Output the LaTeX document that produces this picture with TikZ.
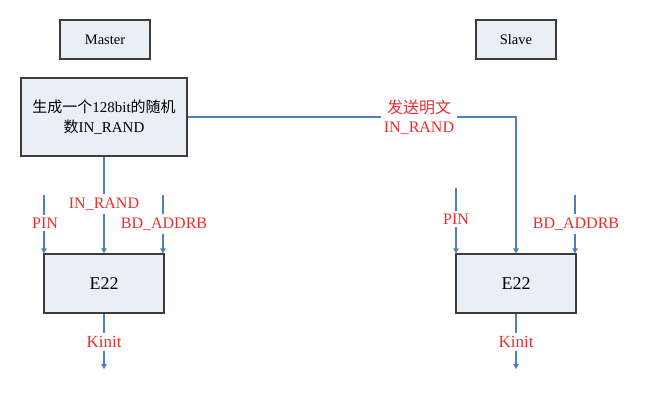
\documentclass[tikz,border=0pt]{standalone}
\usepackage{fontspec}
\setmainfont{Liberation Serif}
\newfontfamily\cjk{Noto Sans CJK SC}
\usetikzlibrary{arrows.meta}
\definecolor{lblred}{RGB}{236,45,45}
\definecolor{wireblue}{RGB}{79,129,189}
\definecolor{boxfill}{RGB}{233,238,247}
\definecolor{boxline}{RGB}{60,60,60}
\tikzset{
  box/.style={draw=boxline, line width=1.3pt, fill=boxfill, inner sep=0pt, align=center, font=\fontsize{14.5}{18}\selectfont},
  lbl/.style={text=lblred, inner sep=3pt, align=center, font=\fontsize{16}{19}\selectfont},
  wire/.style={draw=wireblue, line width=1.2pt},
  tip/.style={wire, -{Triangle[width=5.5pt,length=5pt]}}
}

\begin{document}
\begin{tikzpicture}[x=1pt, y=-1pt]
			%%%%% START %%%%%
			\useasboundingbox (0,0) rectangle (667,407);
			
			% header boxes
			\node[box, minimum width=90pt, minimum height=39pt] (master) at (105, 39.5) {Master};
			\node[box, minimum width=80pt, minimum height=39pt] (slave) at (516, 39.5) {Slave};
			
			% random number box
			\node[box, minimum width=166pt, minimum height=78pt, font=\fontsize{15}{20}\selectfont] (rand) at (104, 117)
				{{\cjk 生成一个}128bit{\cjk 的随机}\\{\cjk 数}IN\_RAND};
			
			% E22 boxes
			\node[box, minimum width=120pt, minimum height=59pt, font=\fontsize{18}{20}\selectfont] (eL) at (104, 283.5) {E22};
			\node[box, minimum width=120pt, minimum height=59pt, font=\fontsize{18}{20}\selectfont] (eR) at (516, 283.5) {E22};
			
			% master side inputs
			\coordinate (pinL) at (44, 195);
			\coordinate (bdL) at (163, 195);
			\node[lbl] (lpinL) at (45, 223) {PIN};
			\node[lbl] (lrandL) at (104, 204) {IN\_RAND};
			\node[lbl] (lbdL) at (164, 224) {BD\_ADDRB};
			\draw[wire] (pinL) -- (pinL |- lpinL.north);
			\draw[tip] (pinL |- lpinL.south) -- (pinL |- eL.north);
			\draw[wire] (rand.south) -- (lrandL);
			\draw[tip] (lrandL) -- (eL.north);
			\draw[wire] (bdL) -- (bdL |- lbdL.north);
			\draw[tip] (bdL |- lbdL.south) -- (bdL |- eL.north);
			
			% send to slave
			\node[lbl] (send) at (419, 117) {{\cjk 发送明文}\\IN\_RAND};
			\coordinate (turn) at (516, 117);
			\draw[wire] (rand.east) -- (send);
			\draw[tip] (send) -- (turn) -- (eR.north);
			
			% slave side inputs
			\coordinate (pinR) at (456, 188);
			\coordinate (bdR) at (575, 195);
			\node[lbl] (lpinR) at (456, 219) {PIN};
			\node[lbl] (lbdR) at (576, 224) {BD\_ADDRB};
			\draw[wire] (pinR) -- (pinR |- lpinR.north);
			\draw[tip] (pinR |- lpinR.south) -- (pinR |- eR.north);
			\draw[wire] (bdR) -- (bdR |- lbdR.north);
			\draw[tip] (bdR |- lbdR.south) -- (bdR |- eR.north);
			
			% outputs
			\node[lbl, font=\fontsize{17}{20}\selectfont] (kL) at (104, 342) {Kinit};
			\node[lbl, font=\fontsize{17}{20}\selectfont] (kR) at (516, 342) {Kinit};
			\coordinate (outL) at (104, 369);
			\coordinate (outR) at (516, 369);
			\draw[wire] (eL.south) -- (kL);
			\draw[tip] (kL) -- (outL);
			\draw[wire] (eR.south) -- (kR);
			\draw[tip] (kR) -- (outR);
			
			%%%%% END %%%%%
		\end{tikzpicture}
\end{document}
